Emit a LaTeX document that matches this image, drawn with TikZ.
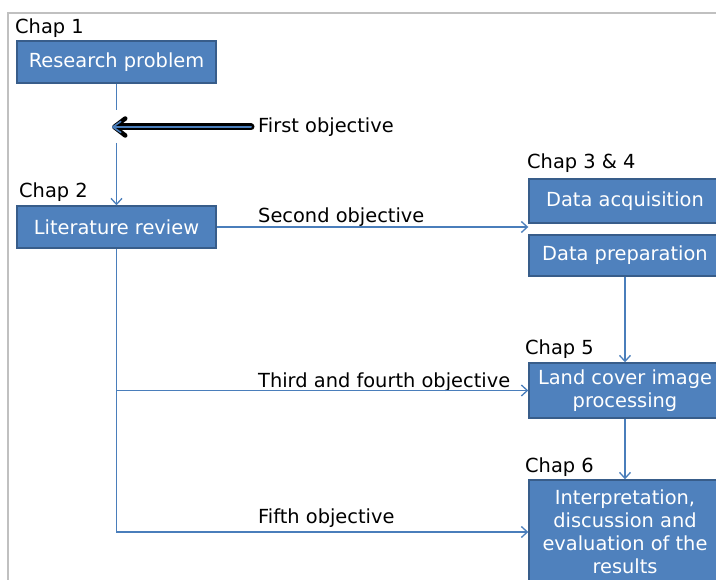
\documentclass[tikz,border=0pt]{standalone}
\usepackage{fontspec}
\setmainfont{DejaVu Sans}
\usetikzlibrary{arrows.meta,calc}

\definecolor{boxfill}{HTML}{4F81BD}
\definecolor{boxline}{HTML}{385D8A}
\definecolor{linkblue}{HTML}{4A7EBB}
\definecolor{framegray}{HTML}{C0C0C0}

\tikzset{
  chapbox/.style={draw=boxline, line width=1.4pt, fill=boxfill, text=white,
    font=\fontsize{19.4}{23}\selectfont, align=center, inner sep=0pt},
  tag/.style={anchor=base west, inner sep=0pt, font=\fontsize{19.4}{23}\selectfont},
  link/.style={draw=linkblue, line width=1.3pt},
  linkarrow/.style={link, -{Straight Barb[length=6pt,width=11pt,line width=1.3pt]}},
}

\begin{document}
\begin{tikzpicture}[x=1pt,y=-1pt]
  \useasboundingbox (0,0) rectangle (716,580);

  % outer frame (only top and left edges are visible)
  \draw[framegray, line width=2pt] (8,580) -- (8,13) -- (716,13);

  % chapter boxes
  \node[chapbox, minimum width=199pt, minimum height=42pt] (rp)  at (116.5,62)  {Research problem};
  \node[chapbox, minimum width=199pt, minimum height=42pt] (lit) at (116.5,227) {Literature review};
  \node[chapbox, minimum width=192pt, minimum height=44pt] (acq) at (625,201)   {Data acquisition};
  \node[chapbox, minimum width=192pt, minimum height=41pt] (prep) at (625,255.5) {Data preparation};
  \node[chapbox, minimum width=192pt, minimum height=55pt] (land) at (625,390.5) {Land cover image\\processing};
  \node[chapbox, minimum width=192pt, minimum height=104pt] (interp) at (625,532)
    {Interpretation,\\discussion and\\evaluation of the\\results};

  % chapter captions
  \node[tag] (c1)  at (15,34)   {Chap 1};
  \node[tag] (c2)  at (19,198)  {Chap 2};
  \node[tag] (c34) at (527,169) {Chap 3 \& 4};
  \node[tag] (c5)  at (525,355) {Chap 5};
  \node[tag] (c6)  at (525,473) {Chap 6};

  % objective labels
  \node[tag] (o1) at (258,133) {First objective};
  \node[tag] (o2) at (258,223) {Second objective};
  \node[tag] (o3) at (258,388) {Third and fourth objective};
  \node[tag] (o5) at (258,523) {Fifth objective};

  % links
  \coordinate (gapA) at (116.5,110);
  \coordinate (gapB) at (116.5,143);
  \draw[link] (rp.south) -- (gapA);
  \draw[linkarrow] (gapB) -- (lit.north);

  \coordinate (split) at ($(acq.south west)!0.5!(prep.north west)$);
  \draw[linkarrow] (lit.east) -- (lit.east -| split);
  \draw[linkarrow] (prep.south) -- (land.north);
  \draw[linkarrow] (land.south) -- (interp.north);
  \draw[linkarrow] (lit.south |- land.west) -- (land.west);
  \draw[linkarrow] (lit.south) |- (interp.west);

  % hand-drawn pointer for the first objective
  \coordinate (ptail) at (251,127);
  \coordinate (ptip)  at (112,127);
  \draw[black, line width=7pt, line cap=round,
        -{Straight Barb[round,length=11pt,width=17pt,line width=4.5pt]}] (ptail) -- (ptip);
  \draw[linkblue, line width=2pt, line cap=round,
        -{Straight Barb[round,length=8pt,width=11pt,line width=1.6pt]}] (ptail) -- (ptip);
\end{tikzpicture}
\end{document}
